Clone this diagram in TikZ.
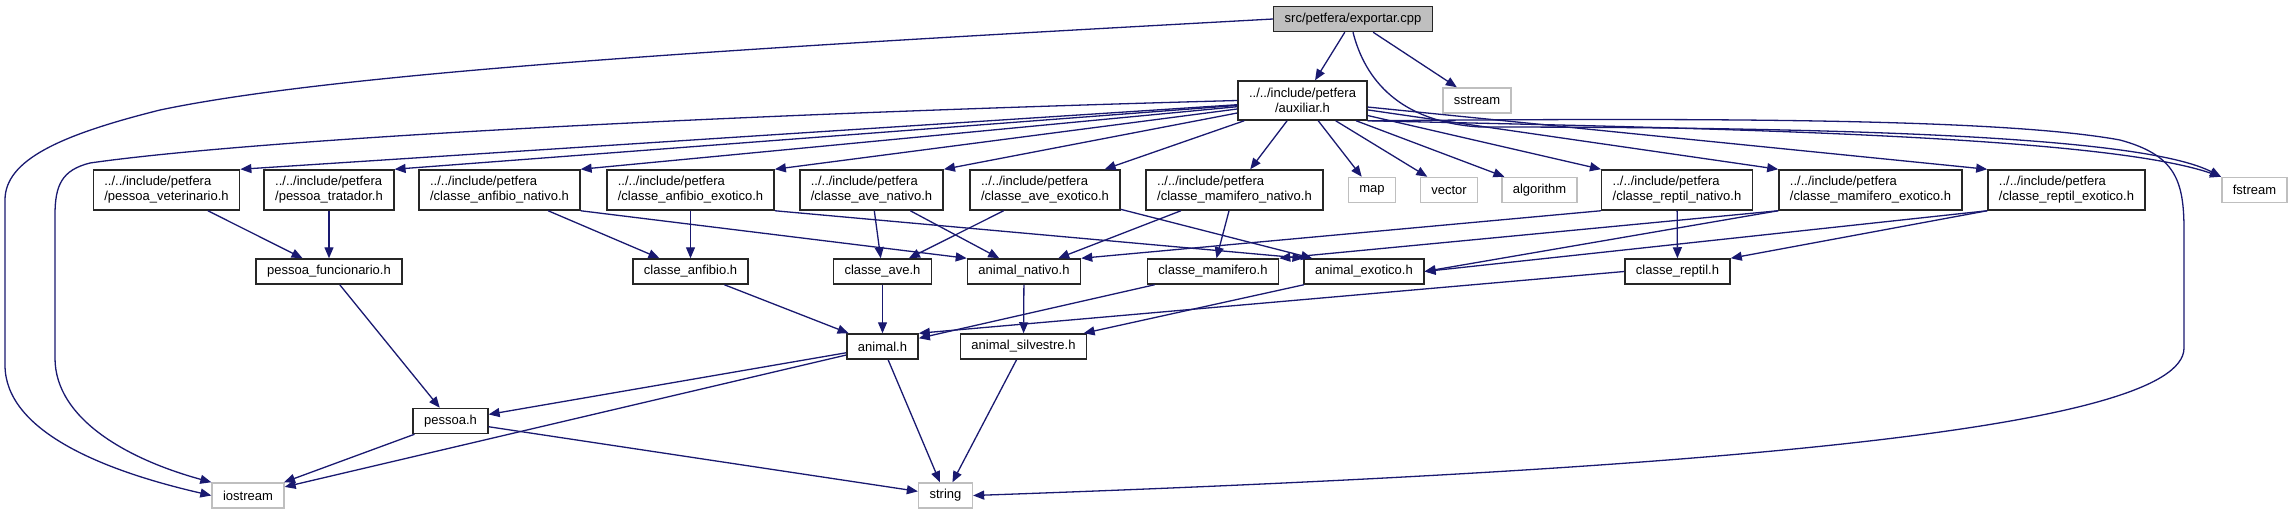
\documentclass[tikz,border=0pt]{standalone}
\usepackage{fontspec}
\setmainfont{Liberation Sans}
\usepackage{tikz}
\usetikzlibrary{arrows.meta}
\definecolor{edgeblue}{RGB}{25,25,112}
\tikzset{
  hdr/.style={draw=black!85, fill=white, line width=0.75pt, inner xsep=5.5pt, inner ysep=0pt, minimum height=12.5pt, font=\fontsize{6.5}{7.5}\selectfont},
  hdrtwo/.style={hdr, align=left, minimum height=20pt},
  sys/.style={hdr, draw=black!25},
  mainfile/.style={hdr, fill=black!25},
  dep/.style={draw=edgeblue, line width=0.65pt, -{Triangle[length=5.5pt,width=4.5pt]}}
}

\begin{document}
\begin{tikzpicture}[x=0.5pt,y=-0.5pt]
\useasboundingbox (0,0) rectangle (2293,515);
\node[mainfile] (exp) at (1353,19) {src/petfera/exportar.cpp};
\node[hdrtwo, align=center, minimum height=19.5pt] (aux) at (1302.5,100.5) {../../include/petfera\\/auxiliar.h};
\node[sys] (sst) at (1477,100.5) {sstream};
\node[hdrtwo] (pvet) at (166.5,190) {../../include/petfera\\/pessoa\_veterinario.h};
\node[hdrtwo] (ptrat) at (329,190) {../../include/petfera\\/pessoa\_tratador.h};
\node[hdrtwo] (canfn) at (499.5,190) {../../include/petfera\\/classe\_anfibio\_nativo.h};
\node[hdrtwo] (canfe) at (690.5,190) {../../include/petfera\\/classe\_anfibio\_exotico.h};
\node[hdrtwo] (caven) at (871.5,190) {../../include/petfera\\/classe\_ave\_nativo.h};
\node[hdrtwo] (cavee) at (1045,190) {../../include/petfera\\/classe\_ave\_exotico.h};
\node[hdrtwo] (cmamn) at (1234.5,190) {../../include/petfera\\/classe\_mamifero\_nativo.h};
\node[sys] (map) at (1372,190) {map};
\node[sys] (vec) at (1449,190) {vector};
\node[sys] (alg) at (1539.5,190) {algorithm};
\node[hdrtwo] (crepn) at (1677,190) {../../include/petfera\\/classe\_reptil\_nativo.h};
\node[hdrtwo] (cmame) at (1870.5,190) {../../include/petfera\\/classe\_mamifero\_exotico.h};
\node[hdrtwo] (crepe) at (2066.5,190) {../../include/petfera\\/classe\_reptil\_exotico.h};
\node[sys] (fst) at (2254.5,190) {fstream};
\node[hdr] (pfunc) at (329,271.5) {pessoa\_funcionario.h};
\node[hdr] (canf) at (690.5,271.5) {classe\_anfibio.h};
\node[hdr] (cave) at (882.5,271.5) {classe\_ave.h};
\node[hdr] (anat) at (1024,271.5) {animal\_nativo.h};
\node[hdr] (cmam) at (1213,271.5) {classe\_mamifero.h};
\node[hdr] (aexo) at (1364,271.5) {animal\_exotico.h};
\node[hdr] (crep) at (1677.5,271.5) {classe\_reptil.h};
\node[hdr] (anim) at (882.5,346.5) {animal.h};
\node[hdr] (asil) at (1023.5,346.5) {animal\_silvestre.h};
\node[hdr] (pes) at (450.5,421) {pessoa.h};
\node[sys] (ios) at (248,495.5) {iostream};
\node[sys] (str) at (945.5,495.5) {string};
\draw[dep] (exp) -- (aux);
\draw[dep] (exp) -- (sst);
\draw[dep] (exp.west) .. controls (800,45) and (350,70) .. (160,110) .. controls (60,135) and (5,160) .. (5,200) -- (5,365) .. controls (5,430) and (100,470) .. (ios.west);
\draw[dep] (exp.south) .. controls (1365,80) and (1400,122) .. (1480,127) .. controls (1900,127) and (2150,140) .. (fst.north west);
\draw[dep] (aux.west) .. controls (700,115) and (250,140) .. (90,163) .. controls (62,170) and (55,185) .. (55,215) -- (55,358) .. controls (55,420) and (130,460) .. (ios.north west);
\draw[dep] (aux) -- (pvet.north east);
\draw[dep] (aux) -- (ptrat.north east);
\draw[dep] (aux) -- (canfn.north east);
\draw[dep] (aux) -- (canfe.north east);
\draw[dep] (aux) -- (caven.north east);
\draw[dep] (aux) -- (cavee);
\draw[dep] (aux) -- (cmamn);
\draw[dep] (aux) -- (map);
\draw[dep] (aux) -- (vec);
\draw[dep] (aux) -- (alg);
\draw[dep] (aux) -- (crepn.north west);
\draw[dep] (aux) -- (cmame.north west);
\draw[dep] (aux) -- (crepe.north west);
\draw[dep] (aux.south east) .. controls (1700,128) and (2100,135) .. (fst.north west);
\draw[dep] (aux.south east) .. controls (1700,118) and (2000,118) .. (2120,140) .. controls (2175,155) and (2184,180) .. (2184,230) -- (2184,348) .. controls (2184,430) and (1700,470) .. (str.east);
\draw[dep] (pvet) -- (pfunc);
\draw[dep] (ptrat) -- (pfunc);
\draw[dep] (pfunc) -- (pes);
\draw[dep] (canfn) -- (canf);
\draw[dep] (canfn.south east) -- (anat.north west);
\draw[dep] (canfe) -- (canf);
\draw[dep] (canfe.south east) -- (aexo.north west);
\draw[dep] (caven) -- (cave);
\draw[dep] (caven) -- (anat);
\draw[dep] (cavee) -- (cave);
\draw[dep] (cavee) -- (aexo);
\draw[dep] (cmamn) -- (cmam);
\draw[dep] (cmamn) -- (anat);
\draw[dep] (crepn) -- (crep);
\draw[dep] (crepn.south west) -- (anat.north east);
\draw[dep] (cmame.south west) -- (cmam.north east);
\draw[dep] (cmame.south west) -- (aexo.east);
\draw[dep] (crepe.south west) -- (crep.north east);
\draw[dep] (crepe.south west) -- (aexo.east);
\draw[dep] (canf) -- (anim);
\draw[dep] (cave) -- (anim);
\draw[dep] (cmam) -- (anim);
\draw[dep] (crep.west) -- (anim.north east);
\draw[dep] (anat) -- (asil);
\draw[dep] (aexo) -- (asil);
\draw[dep] (anim) -- (pes);
\draw[dep] (anim) -- (ios);
\draw[dep] (anim) -- (str);
\draw[dep] (asil) -- (str);
\draw[dep] (pes) -- (ios);
\draw[dep] (pes) -- (str);
\end{tikzpicture}
\end{document}
